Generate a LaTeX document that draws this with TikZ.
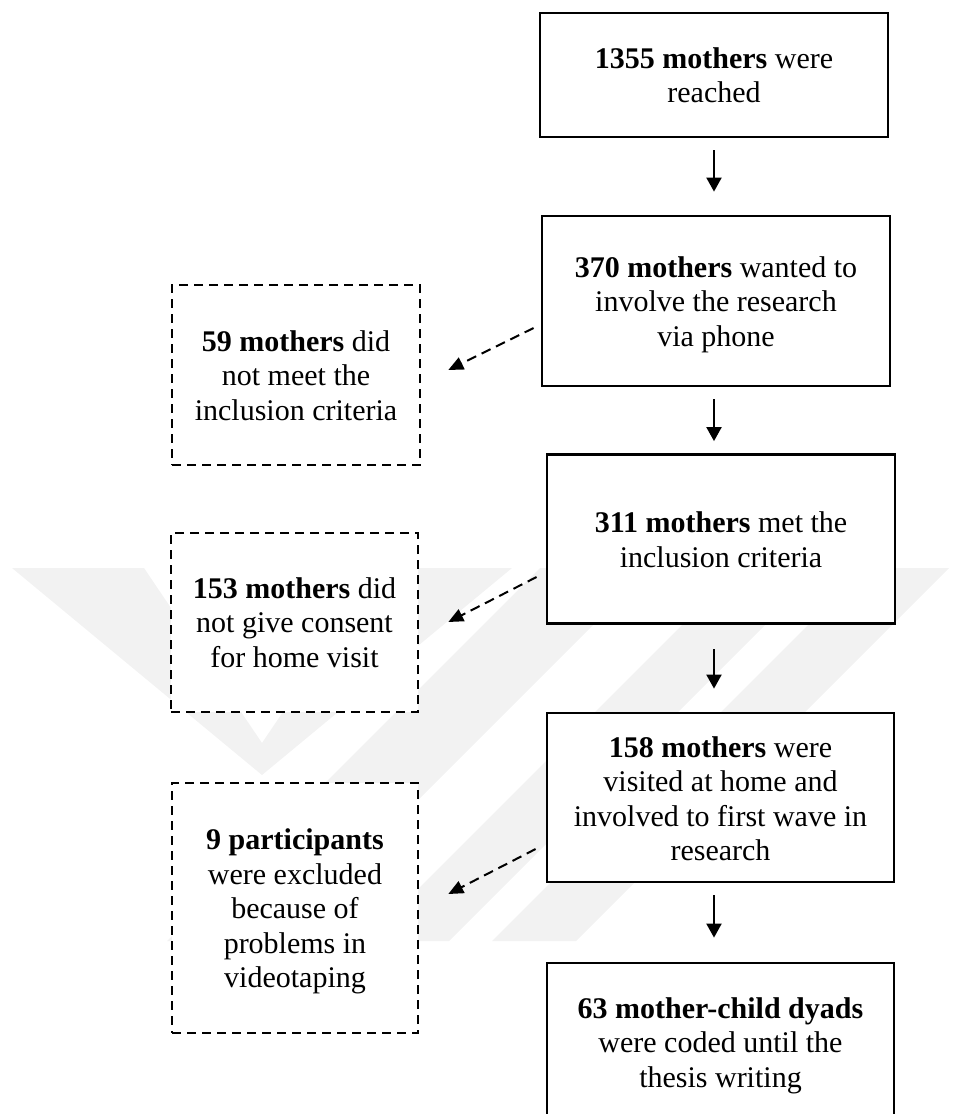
\documentclass[tikz,border=0pt]{standalone}
\usepackage{fontspec}
\setmainfont{Liberation Serif}
\usetikzlibrary{arrows.meta,calc}

\begin{document}
\begin{tikzpicture}[x=1pt,y=-1pt,
  box/.style={draw=black,line width=2.8pt,fill=white,inner sep=0pt},
  dbox/.style={draw=black,line width=2.6pt,fill=white,inner sep=0pt,dash pattern=on 9pt off 6pt},
  txt/.style={align=center,anchor=base,inner sep=0pt,font=\fontsize{30}{34.5}\selectfont},
  flow/.style={line width=2pt,-{Triangle[length=14pt,width=15pt]}},
  dropout/.style={line width=2pt,dash pattern=on 10pt off 6pt,-{Triangle[length=15pt,width=13pt]}},
  wmark/.style={fill=black!5,draw=none}]

\useasboundingbox (0,0) rectangle (979,1114);
\clip (0,0) rectangle (979,1114);

% faint background emblem
\fill[wmark] (12,568) -- (144,568) -- (262,743) -- (380,568) -- (512,568) -- (262,775) -- cycle;
\fill[wmark] (540,568) -- (650,568) -- (277,941) -- (167,941) -- cycle;
\fill[wmark] (739,568) -- (822,568) -- (449,941) -- (366,941) -- cycle;
\fill[wmark] (865,568) -- (949,568) -- (576,941) -- (492,941) -- cycle;

% main flow boxes (text nodes are anchored at the baseline of their last line)
\node[box,minimum width=348pt,minimum height=124pt] (n1355) at (714,75) {};
\node[txt] (t1355) at (714,102.5) {\textbf{1355 mothers} were\\reached};

\node[box,minimum width=348pt,minimum height=170pt] (n370) at (716,301) {};
\node[txt] (t370) at (716,346) {\textbf{370 mothers} wanted to\\involve the research\\via phone};

\node[box,minimum width=348pt,minimum height=169pt] (n311) at (721,539) {};
\node[txt] (t311) at (721,567) {\textbf{311 mothers} met the\\inclusion criteria};

\node[box,minimum width=347pt,minimum height=169pt] (n158) at (720.5,797.5) {};
\node[txt] (t158) at (720.5,860.5) {\textbf{158 mothers} were\\visited at home and\\involved to first wave in\\research};

\node[box,minimum width=347pt,minimum height=170pt] (n63) at (720.5,1048) {};
\node[txt] (t63) at (720.5,1087) {\textbf{63 mother-child dyads}\\were coded until the\\thesis writing};

% excluded groups
\node[dbox,minimum width=248pt,minimum height=180pt] (n59) at (296,375) {};
\node[txt] (t59) at (296,420) {\textbf{59 mothers} did\\not meet the\\inclusion criteria};

\node[dbox,minimum width=247pt,minimum height=179pt] (n153) at (294.5,622.5) {};
\node[txt] (t153) at (294.5,667) {\textbf{153 mothers} did\\not give consent\\for home visit};

\node[dbox,minimum width=246pt,minimum height=250pt] (n9) at (295,908) {};
\node[txt] (t9) at (295,987.5) {\textbf{9 participants}\\were excluded\\because of\\problems in\\videotaping};

% flow arrows
\draw[flow] ($(n1355.south)+(0,12)$) -- ($(n370.north -| n1355.south)+(0,-23)$);
\draw[flow] ($(n370.south -| n1355.south)+(0,12)$) -- ($(n311.north -| n1355.south)+(0,-12)$);
\draw[flow] ($(n311.south -| n1355.south)+(0,24.5)$) -- ($(n158.north -| n1355.south)+(0,-23)$);
\draw[flow] ($(n158.south -| n1355.south)+(0,12)$) -- ($(n63.north -| n1355.south)+(0,-24)$);

% dropouts
\draw[dropout] ($(n370.west)+(-7,27)$) -- ($(n59.east)+(27,-5)$);
\draw[dropout] ($(n311.west)+(-9,38)$) -- ($(n153.east)+(29,-0.5)$);
\draw[dropout] ($(n158.west)+(-10,51.5)$) -- ($(n9.east)+(29,-14)$);
\end{tikzpicture}
\end{document}
